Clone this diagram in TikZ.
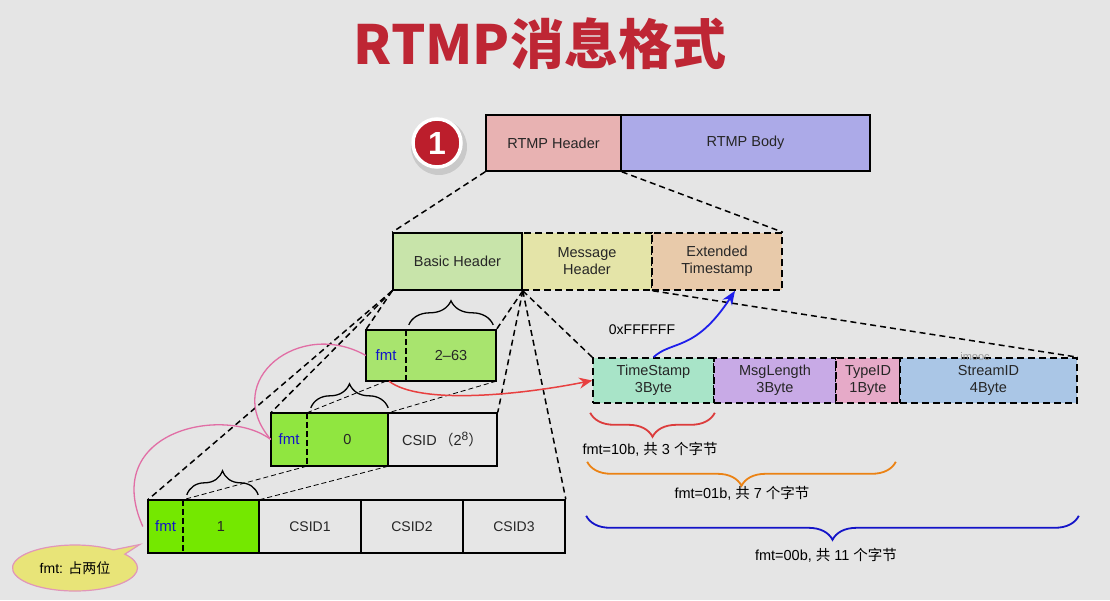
\documentclass[tikz,border=0pt]{standalone}
\usepackage{fontspec}
\setmainfont{Liberation Sans}
\newfontfamily\cjk{Noto Sans CJK SC}
\usetikzlibrary{arrows.meta,calc,decorations.pathreplacing,shapes.callouts}
\usepackage{xcolor}
\definecolor{figbg}{RGB}{229,229,229}
\definecolor{figdark}{RGB}{38,38,38}
\definecolor{titlered}{RGB}{190,38,52}
\definecolor{badgered}{RGB}{188,30,44}
\definecolor{hdrpink}{RGB}{232,178,178}
\definecolor{bodyblue}{RGB}{172,170,232}
\definecolor{basicgreen}{RGB}{200,228,170}
\definecolor{msgyellow}{RGB}{228,228,168}
\definecolor{extorange}{RGB}{232,202,170}
\definecolor{greenA}{RGB}{168,228,110}
\definecolor{greenB}{RGB}{144,230,64}
\definecolor{greenC}{RGB}{116,232,0}
\definecolor{cellgray}{RGB}{230,230,230}
\definecolor{tsgreen}{RGB}{168,228,200}
\definecolor{lenpurple}{RGB}{200,170,230}
\definecolor{typepink}{RGB}{230,170,200}
\definecolor{sidblue}{RGB}{170,198,230}
\definecolor{fmtblue}{RGB}{20,20,200}
\definecolor{looppink}{RGB}{225,110,165}
\definecolor{flowred}{RGB}{232,64,64}
\definecolor{flowblue}{RGB}{30,30,235}
\definecolor{braceorange}{RGB}{235,130,20}
\definecolor{braceblue}{RGB}{20,20,200}
\definecolor{bracered}{RGB}{220,60,60}
\definecolor{noteyellow}{RGB}{232,228,120}
\definecolor{noteedge}{RGB}{225,150,185}

\begin{document}
\begin{tikzpicture}[x=1pt,y=-1pt,>=Stealth,font=\fontsize{14.5}{17}\selectfont]

% canvas
\fill[figbg] (0,0) rectangle (1110,600);

\tikzset{
  cell/.style={
    inner sep=0pt,
    align=center,
    text=figdark
  },
  solidcell/.style={
    cell,
    draw=black,
    line width=1.6pt
  },
  dashcell/.style={
    cell,
    draw=black,
    line width=1.6pt,
    dash pattern=on 7pt off 4pt
  },
  fmtcell/.style={
    cell,
    text=fmtblue,
    font=\fontsize{15}{17}\selectfont
  },
  badge/.style={
    circle,
    draw=white,
    fill=badgered,
    line width=3.5pt,
    minimum size=48pt,
    inner sep=0pt,
    text=white,
    font=\bfseries\fontsize{32}{32}\selectfont
  },
  zoomline/.style={
    draw=black,
    line width=1.5pt,
    dash pattern=on 6pt off 4pt
  },
  thinzoom/.style={
    draw=black,
    line width=0.8pt,
    dash pattern=on 5pt off 3pt
  },
  divider/.style={
    draw=black,
    line width=1.4pt,
    dash pattern=on 6pt off 3pt
  },
  capbrace/.style={
    draw=black,
    line width=1.3pt,
    decorate,
    decoration={brace,amplitude=24pt}
  },
  lenbrace/.style={
    line width=1.8pt,
    decorate,
    decoration={brace,amplitude=24pt}
  },
  loopline/.style={
    draw=looppink,
    line width=1.3pt
  },
  fmtflow/.style={
    draw=flowred,
    line width=1.5pt,
    -{Stealth[length=13pt,width=11pt]}
  },
  extflow/.style={
    draw=flowblue,
    line width=1.8pt,
    -{Stealth[length=14pt,width=11pt]}
  },
  note/.style={
    ellipse callout,
    draw=noteedge,
    fill=noteyellow,
    line width=1.2pt,
    minimum width=125pt,
    minimum height=46pt,
    inner sep=0pt,
    font=\fontsize{14}{16}\selectfont
  }
}

% title
\node[text=titlered,font=\cjk\bfseries\fontsize{54}{60}\selectfont] (title) at (540,44) {RTMP消息格式};

% badge
\fill[black,opacity=0.12] (439,147) circle (28);
\node[badge] (num) at (437,143) {1};

% top level
\node[solidcell,fill=hdrpink,minimum width=135pt,minimum height=56pt] (hdr) at (553.5,143) {RTMP Header};
\node[solidcell,fill=bodyblue,minimum width=249pt,minimum height=56pt] (body) at (745.5,143) {RTMP Body};

% header parts
\node[dashcell,fill=msgyellow,minimum width=130pt,minimum height=57pt] (msg) at (587,261.5) {Message\\Header};
\node[dashcell,fill=extorange,minimum width=130pt,minimum height=57pt] (ext) at (717,261.5) {Extended\\Timestamp};
\node[solidcell,fill=basicgreen,minimum width=129pt,minimum height=57pt] (basic) at (457.5,261.5) {Basic Header};

% zoom lines
\draw[zoomline] (hdr.south west) -- (basic.north west);
\draw[zoomline] (hdr.south east) -- (ext.north east);

% basic header, three forms
\node[cell,fill=greenA,minimum width=40pt,minimum height=51pt] (fmtA) at (386,355.5) {};
\node[cell,fill=greenA,minimum width=90pt,minimum height=51pt] (valA) at (451,355.5) {2–63};

\node[cell,fill=greenB,minimum width=36pt,minimum height=53pt] (fmtB) at (289,439.5) {};
\node[cell,fill=greenB,minimum width=81pt,minimum height=53pt] (valB) at (347.5,439.5) {0};

\node[cell,fill=greenC,minimum width=35pt,minimum height=53pt] (fmtC) at (165.5,526.5) {};
\node[cell,fill=greenC,minimum width=76pt,minimum height=53pt] (valC) at (221,526.5) {1};

\foreach \f in {fmtA,fmtB,fmtC}{
  \node[fmtcell] at (\f) {fmt};
}

% zoom lines to the three forms
\foreach \t in {fmtA,fmtB,fmtC}{
  \draw[zoomline] (basic.south west) -- (\t.north west);
}
\foreach \t in {valA}{
  \draw[zoomline] (basic.south east) -- (\t.north east);
}

\node[solidcell,fill=cellgray,minimum width=109pt,minimum height=53pt] (csidB) at (442.5,439.5)
  {CSID\,{\cjk（}2\raisebox{0.55ex}{\fontsize{12}{12}\selectfont 8}{\cjk）}};

\foreach \n/\x in {1/310,2/412,3/514}{
  \node[solidcell,fill=cellgray,minimum width=102pt,minimum height=53pt,
    font=\fontsize{14}{16}\selectfont] (csid\n) at (\x,526.5) {CSID\n};
}

\draw[zoomline] (basic.south east) -- (csidB.north east);
\draw[zoomline] (basic.south east) -- (csid3.north east);

% outlines and fmt dividers
\draw[black,line width=1.6pt] (fmtA.north west) rectangle (valA.south east);
\draw[black,line width=1.6pt] (fmtB.north west) rectangle (valB.south east);
\draw[black,line width=1.6pt] (fmtC.north west) rectangle (valC.south east);
\foreach \v in {valA,valB,valC}{
  \draw[divider] (\v.north west) -- (\v.south west);
}

% thin links between forms
\draw[thinzoom] (fmtA.south) -- (valB.north west);
\draw[thinzoom] (valA.south east) -- (valB.north east);
\draw[thinzoom] (valB.south west) -- (valC.north west);
\draw[thinzoom] (valB.south east) -- (valC.north east);

% braces over the id bits
\draw[capbrace] ($(valA.north west)+(3,-5)$) -- ($(valA.north east)+(-3,-5)$);
\draw[capbrace] ($(valB.north west)+(4,-5)$) -- ($(valB.north east)+(0,-5)$);
\draw[capbrace] ($(valC.north west)+(4,-5)$) -- ($(valC.north east)+(-1,-5)$);

% message header fields
\node[dashcell,fill=tsgreen,minimum width=121pt,minimum height=45pt] (ts) at (653.5,380.5) {TimeStamp\\3Byte};
\node[dashcell,fill=lenpurple,minimum width=122pt,minimum height=45pt] (len) at (775,380.5) {MsgLength\\3Byte};
\node[dashcell,fill=typepink,minimum width=64pt,minimum height=45pt] (type) at (868,380.5) {TypeID\\1Byte};
\node[dashcell,fill=sidblue,minimum width=177pt,minimum height=45pt] (sid) at (988.5,380.5) {StreamID\\4Byte};
\node[text=black!40,font=\fontsize{11}{12}\selectfont] (mark) at (975,357) {imooc};

\draw[zoomline] (basic.south east) -- (ts.north west);
\draw[zoomline] (msg.south east) -- (sid.north east);

% byte counts
\draw[lenbrace,draw=bracered] ($(ts.south east)+(0,9)$) -- ($(ts.south west)+(-2,9)$);
\draw[lenbrace,draw=braceorange] ($(type.south east)+(-5,58)$) -- ($(ts.south west)+(-5,58)$);
\draw[lenbrace,draw=braceblue] ($(sid.south east)+(1,112)$) -- ($(ts.south west)+(-6,112)$);

\node[anchor=west,font=\fontsize{14.5}{16}\selectfont] (cnt3) at (579,449) {fmt=10b, {\cjk 共} 3 {\cjk 个字节}};
\node[font=\fontsize{14.5}{16}\selectfont] (cnt7) at (742,493) {fmt=01b, {\cjk 共} 7 {\cjk 个字节}};
\node[font=\fontsize{14.5}{16}\selectfont] (cnt11) at (826,555) {fmt=00b, {\cjk 共} 11 {\cjk 个字节}};

% fmt loops
\draw[loopline] (fmtA.west) .. controls (300,318) and (220,380) .. (fmtB.west);
\draw[loopline] (fmtB.west) .. controls (225,405) and (100,430) .. ($(fmtC.west)+(-5,0)$);

% fmt note
\coordinate (tail) at ($(fmtC.west)+(-8,18)$);
\node[note,callout absolute pointer={(tail)}] (fmtnote) at (75,568) {fmt: {\cjk 占两位}};

% flows
\draw[fmtflow] ($(fmtA.south)+(3,0)$) .. controls (420,405) and (520,395) .. (ts.west);
\node[font=\fontsize{14}{16}\selectfont] (hexval) at (642,330) {0xFFFFFF};
\draw[extflow] (ts.north) .. controls (672,340) and (695,352) .. ($(ext.south)+(18,0)$);

\end{tikzpicture}
\end{document}
